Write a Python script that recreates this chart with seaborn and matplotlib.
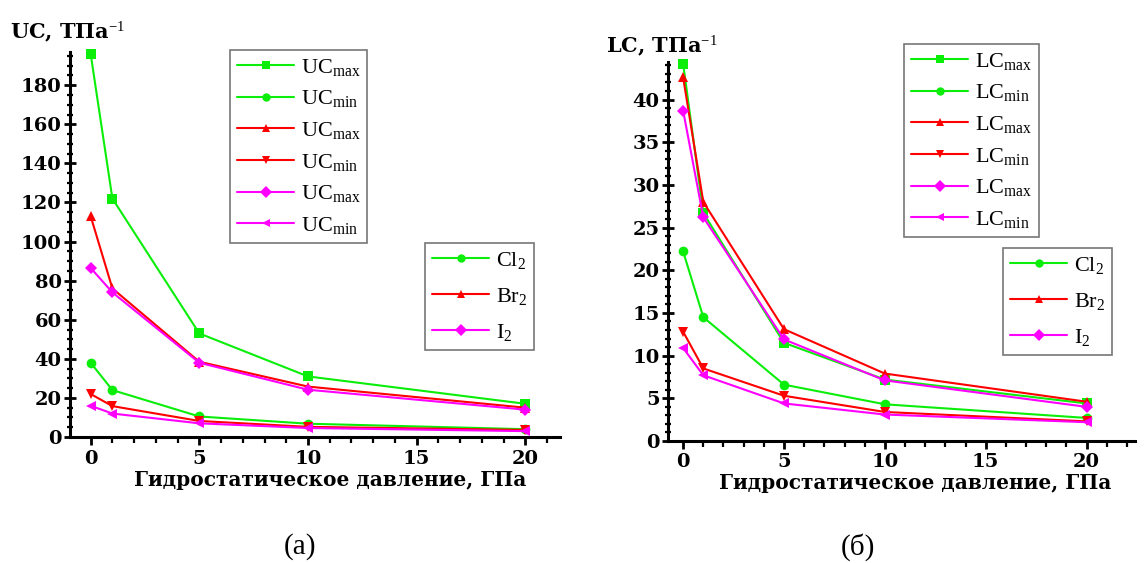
import matplotlib
matplotlib.use("Agg")
import matplotlib.pyplot as plt
from matplotlib.lines import Line2D
from matplotlib.ticker import MultipleLocator
import seaborn as sns
import pandas as pd

# Hydrostatic pressure, GPa
pressure = [0, 1, 5, 10, 20]

# Uniaxial compressibility UC, TPa^-1
uc_cl2_max = [196, 122, 53, 31, 17]
uc_cl2_min = [38, 24, 10.5, 6.8, 4]
uc_br2_max = [113, 76, 38.5, 25.8, 15]
uc_br2_min = [22, 15.8, 8.2, 5.2, 3.6]
uc_i2_max = [86.5, 74, 38, 24.2, 14]
uc_i2_min = [16, 12, 7, 4.6, 3.0]

# Linear compressibility LC, TPa^-1
lc_cl2_max = [44.2, 26.7, 11.5, 7.2, 4.4]
lc_cl2_min = [22.2, 14.5, 6.6, 4.3, 2.7]
lc_br2_max = [42.6, 28.0, 13.1, 7.9, 4.6]
lc_br2_min = [12.8, 8.5, 5.3, 3.4, 2.3]
lc_i2_max = [38.7, 26.2, 11.9, 7.1, 4.0]
lc_i2_min = [10.9, 7.7, 4.4, 3.1, 2.2]

compounds = ["Cl$_2$", "Br$_2$", "I$_2$"]
colors = ["#0aee0a", "#ff0000", "#ff00ff"]
max_markers = ["s", "^", "D"]
min_markers = ["o", "v", "<"]

sns.set_style("ticks", {"text.color": "black", "axes.labelcolor": "black",
                        "xtick.color": "black", "ytick.color": "black",
                        "axes.edgecolor": "black"})
plt.rcParams["font.family"] = ["Liberation Serif", "DejaVu Serif"]
plt.rcParams["text.color"] = "black"
plt.rcParams["mathtext.fontset"] = "custom"
plt.rcParams["mathtext.rm"] = "Liberation Serif"
plt.rcParams["mathtext.bf"] = "Liberation Serif:bold"
plt.rcParams["mathtext.it"] = "Liberation Serif:italic"

BOLD = {"family": "DejaVu Serif", "weight": "bold", "color": "black"}

fig = plt.figure(figsize=(11.46, 5.63), dpi=100)
ax_uc = fig.add_axes([0.0611, 0.2238, 0.4276, 0.6838])
ax_lc = fig.add_axes([0.5829, 0.2167, 0.4075, 0.6732])


def marker_size(mk):
    return {"s": 6.5, "D": 6, "o": 7}.get(mk, 7.5)


def draw_panel(ax, name, max_series, min_series, ylim, ymajor, yminor, xlim, xlabel_x):
    for color, mk_max, mk_min, ymax, ymin in zip(colors, max_markers, min_markers,
                                                 max_series, min_series):
        df = pd.DataFrame({"p": pressure, "max": ymax, "min": ymin})
        for col, mk in (("max", mk_max), ("min", mk_min)):
            sns.lineplot(data=df, x="p", y=col, ax=ax, color=color, marker=mk,
                         markersize=marker_size(mk), markeredgewidth=0,
                         linewidth=1.5, legend=False, clip_on=False)
    ax.set_xlim(*xlim)
    ax.set_ylim(*ylim)
    ax.xaxis.set_major_locator(MultipleLocator(5))
    ax.xaxis.set_minor_locator(MultipleLocator(1))
    ax.yaxis.set_major_locator(MultipleLocator(ymajor))
    ax.yaxis.set_minor_locator(MultipleLocator(yminor))
    sns.despine(ax=ax)
    for side in ("left", "bottom"):
        ax.spines[side].set_linewidth(2.2)
        ax.spines[side].set_color("black")
    ax.tick_params(axis="y", which="major", direction="inout", length=8, width=2, pad=2,
                   colors="black")
    ax.tick_params(axis="y", which="minor", direction="inout", length=5, width=1.6,
                   colors="black")
    ax.tick_params(axis="x", which="major", direction="out", length=6, width=2, pad=3,
                   colors="black")
    ax.tick_params(axis="x", which="minor", direction="out", length=4, width=1.6,
                   colors="black")
    for lab in ax.get_xticklabels() + ax.get_yticklabels():
        lab.set_fontfamily(BOLD["family"])
        lab.set_fontweight("bold")
        lab.set_fontsize(14)
        lab.set_color("black")
    ax.set_xlabel("Гидростатическое давление, ГПа", fontsize=14.5,
                  fontdict=BOLD, labelpad=1)
    ax.xaxis.set_label_coords(xlabel_x, -0.085)
    ax.set_ylabel("")

    # legend entries for the max/min branches
    handles = []
    labels = []
    for color, mk_max, mk_min in zip(colors, max_markers, min_markers):
        for mk, sub in ((mk_max, "max"), (mk_min, "min")):
            handles.append(Line2D([], [], color=color, marker=mk, markersize=6,
                                  markeredgewidth=0, linewidth=1.5))
            labels.append(name + r"$_{\mathrm{" + sub + "}}$")
    return handles, labels


h1, l1 = draw_panel(ax_uc, "UC",
                    [uc_cl2_max, uc_br2_max, uc_i2_max],
                    [uc_cl2_min, uc_br2_min, uc_i2_min],
                    (0, 197), 20, 5, (-0.95, 21.6), 0.53)
h2, l2 = draw_panel(ax_lc, "LC",
                    [lc_cl2_max, lc_br2_max, lc_i2_max],
                    [lc_cl2_min, lc_br2_min, lc_i2_min],
                    (0, 44.4), 5, 1, (-0.75, 22.4), 0.53)

leg_kw = dict(frameon=True, fancybox=False, framealpha=1, edgecolor="#777777",
              handlelength=2.6, handletextpad=0.3, borderpad=0.3,
              borderaxespad=0, labelcolor="black",
              prop={"family": "Liberation Serif", "size": 16})


def add_legend(handles, labels, x, y, spacing):
    leg = fig.legend(handles, labels, loc="upper left",
                     bbox_to_anchor=(x / 1146, 1 - y / 563),
                     labelspacing=spacing, **leg_kw)
    leg.get_frame().set_linewidth(1.2)
    return leg


add_legend(h1, l1, 230, 50, 0.48)
add_legend(h2, l2, 904, 44, 0.48)

comp_handles = [Line2D([], [], color=c, marker=m, markersize=6, markeredgewidth=0,
                       linewidth=1.5) for c, m in zip(colors, ["o", "^", "D"])]
add_legend(comp_handles, compounds, 425, 243, 0.68)
add_legend(comp_handles, compounds, 1003, 248, 0.68)

# quantity labels above the y axes
fig.text(10 / 1146, 1 - 38 / 563, r"UC, ТПа$^{-1}$", fontsize=15, fontdict=BOLD,
         ha="left", va="baseline")
fig.text(606 / 1146, 1 - 52 / 563, r"LC, ТПа$^{-1}$", fontsize=15, fontdict=BOLD,
         ha="left", va="baseline")

# panel captions
fig.text(300 / 1146, 1 - 547 / 563, "(а)", fontsize=21, color="black",
         ha="center", va="center")
fig.text(858 / 1146, 1 - 547 / 563, "(б)", fontsize=21, color="black",
         ha="center", va="center")

fig.savefig("out.png", dpi=100, facecolor="white")
